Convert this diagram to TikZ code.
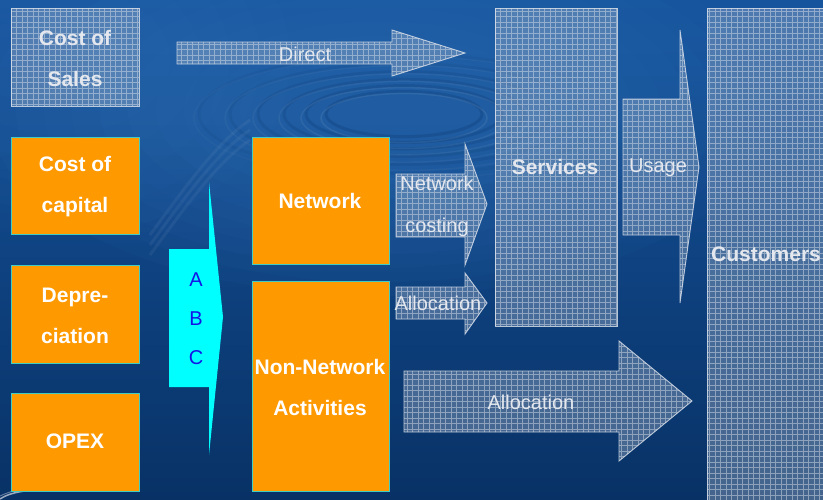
\documentclass[tikz,border=0pt]{standalone}
\usepackage{fontspec}
\setmainfont{Liberation Sans}

\definecolor{bgtop}{RGB}{22,84,158}
\definecolor{bgbot}{RGB}{8,50,102}
\definecolor{ripplelight}{RGB}{55,120,190}
\definecolor{boxorange}{RGB}{255,153,0}
\definecolor{boxedge}{RGB}{64,205,195}
\definecolor{meshbase}{RGB}{175,190,210}
\definecolor{meshline}{RGB}{215,222,232}
\definecolor{meshtext}{RGB}{228,232,238}
\definecolor{abcfill}{RGB}{0,255,255}
\definecolor{abctext}{RGB}{20,20,230}

\tikzset{
  mesh/.style={fill=meshbase, fill opacity=0.36, draw=meshline, draw opacity=0.85, line width=0.9pt,
    path picture={
      \draw[meshline, opacity=0.5, line width=0.5pt, step=5.5pt]
        (path picture bounding box.south west) grid (path picture bounding box.north east);
    }},
  orangebox/.style={fill=boxorange, draw=boxedge, line width=0.9pt},
  abcarrow/.style={fill=abcfill},
  boxlabel/.style={text=white, font=\fontsize{21}{41}\selectfont\bfseries, align=center, inner sep=0pt},
  meshlabel/.style={text=meshtext, font=\fontsize{21}{41}\selectfont\bfseries, align=center, inner sep=0pt},
  arrowlabel/.style={text=meshtext, font=\fontsize{20}{42}\selectfont, align=center, inner sep=0pt},
  abclabel/.style={text=abctext, font=\fontsize{20}{39}\selectfont, align=center, inner sep=0pt}
}

% block arrow: shaft left x, shaft top, shaft bottom, head base x, head top, head bottom, tip x, tip y
\newcommand{\blockarrow}[9][mesh]{%
  \path[#1] (#2,#3) -- (#5,#3) -- (#5,#6) -- (#8,#9) -- (#5,#7) -- (#5,#4) -- (#2,#4) -- cycle;}

\begin{document}
\begin{tikzpicture}[x=1pt,y=-1pt]
  \useasboundingbox (0,0) rectangle (823,499);
  % background
  \shade[top color=bgtop, bottom color=bgbot] (0,0) rectangle (823,499);
  % soft light over the upper left and the ripple
  \begin{scope}
    \clip (0,0) rectangle (823,499);
    \foreach \k in {1,...,10} {
      \fill[ripplelight, opacity=0.06] (380,110) ellipse [x radius=420-28*\k, y radius=200-14*\k];
    }
    \foreach \k in {1,...,6} {
      \fill[ripplelight, opacity=0.05] (60,60) ellipse [x radius=260-30*\k, y radius=200-25*\k];
    }
    % water rings
    \foreach \r/\o in {78/0.22,98/0.2,120/0.17,146/0.14,174/0.11,205/0.08} {
      \draw[bgbot, line width=3pt, opacity=\o] (404,114) ellipse [x radius=\r, y radius=\r*0.29];
      \draw[white, line width=1.5pt, opacity=\o*0.35] (404,118) ellipse [x radius=\r+5, y radius=\r*0.29+2];
    }
    % faint light streaks left of the activities
    \foreach \d in {0,10,20} {
      \draw[white, opacity=0.05, line width=3pt] (150,235+\d) .. controls (190,180+\d) and (220,140+\d) .. (250,120+\d);
    }
  \end{scope}
  % swoosh bottom left
  \draw[white, opacity=0.6, line width=1.5pt] (0,499) .. controls (10,492) and (30,489) .. (55,489);
  \draw[white, opacity=0.35, line width=1pt] (0,496) .. controls (12,490) and (30,487) .. (48,486);

  % mesh boxes
  \path[mesh] (11,8) rectangle (139,106);
  \node[meshlabel] (sales) at (75,58) {Cost of\\Sales};
  \path[mesh] (495,8) rectangle (617,326);
  \node[meshlabel] (services) at (555,167) {Services};
  \path[mesh] (707,8) rectangle (830,510);
  \node[meshlabel, anchor=west] (customers) at (711,254) {Customers};

  % block arrows
  \blockarrow{177}{42}{64}{392}{30}{76}{465}{53}
  \node[arrowlabel] (direct) at (305,54) {Direct};
  \blockarrow{396}{174}{237}{465}{144}{265}{487}{204}
  \node[arrowlabel] (netcost) at (437,206) {Network\\costing};
  \blockarrow{396}{287}{319}{465}{273}{334}{487}{303}
  \node[arrowlabel] (alloc1) at (438,303) {Allocation};
  \blockarrow{404}{371}{432}{619}{341}{461}{692}{401}
  \node[arrowlabel] (alloc2) at (531,402) {Allocation};
  \blockarrow{623}{99}{235}{680}{30}{303}{699}{167}
  \node[arrowlabel] (usage) at (658,168) {Usage};
  \blockarrow[abcarrow]{169}{249}{387}{209}{182}{455}{223}{317}
  \node[abclabel] (abc) at (196,319) {A\\B\\C};

  % cost pools
  \path[orangebox] (11,137) rectangle (139,234);
  \node[boxlabel] (capital) at (75,187) {Cost of\\capital};
  \path[orangebox] (11,265) rectangle (139,363);
  \node[boxlabel] (deprec) at (75,316) {Depre-\\ciation};
  \path[orangebox] (11,393) rectangle (139,491);
  \node[boxlabel] (opex) at (75,441) {OPEX};

  % activities
  \path[orangebox] (252,137) rectangle (389,264);
  \node[boxlabel] (network) at (320,201) {Network};
  \path[orangebox] (252,281) rectangle (389,491);
  \node[boxlabel] (nonnet) at (320,387) {Non-Network\\Activities};
\end{tikzpicture}
\end{document}
